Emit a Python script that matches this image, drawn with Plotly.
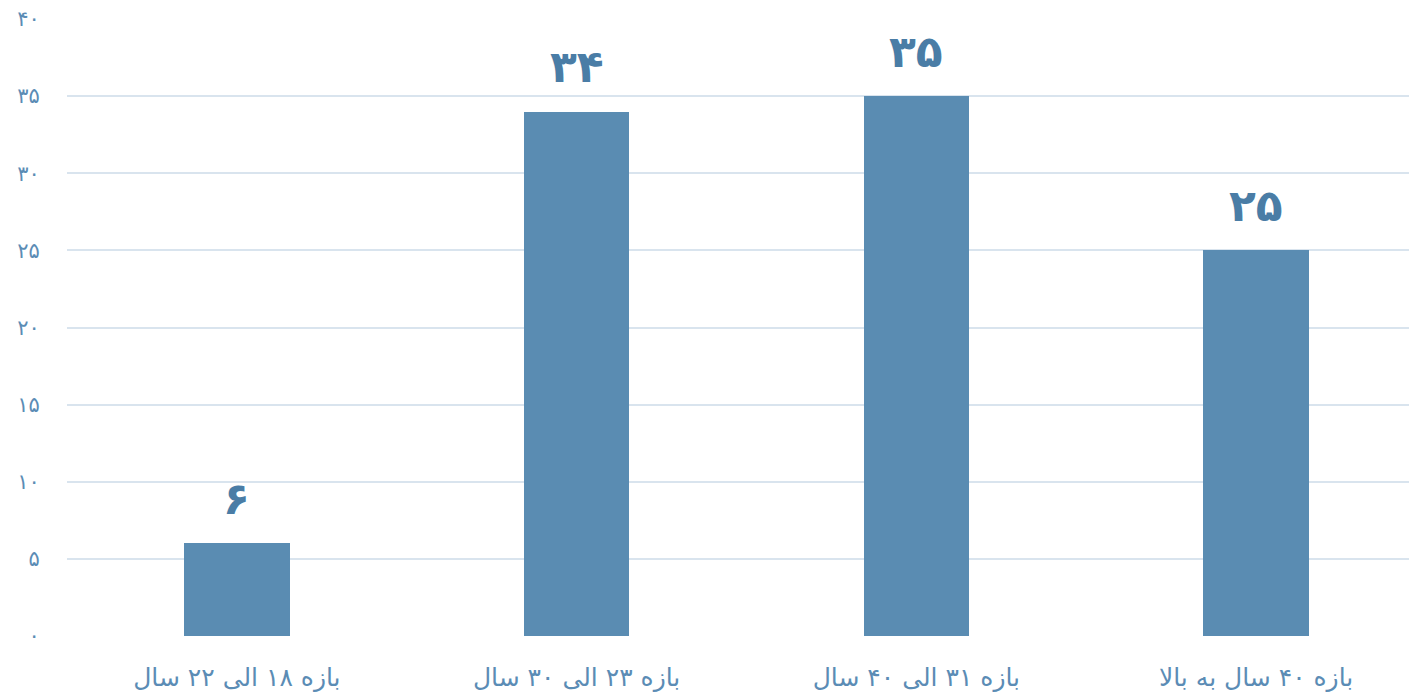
import plotly.graph_objects as go

categories = ["بازه ۱۸ الی ۲۲ سال", "بازه ۲۳ الی ۳۰ سال", "بازه ۳۱ الی ۴۰ سال", "بازه ۴۰ سال به بالا"]
values = [6, 34, 35, 25]
tick_vals = [0, 5, 10, 15, 20, 25, 30, 35, 40]

def fa(n):
    return str(n).translate(str.maketrans("0123456789", "۰۱۲۳۴۵۶۷۸۹"))

tick_text = [fa(v) for v in tick_vals]
value_text = [fa(v) for v in values]

FONT = "DejaVu Sans"
xs = list(range(len(categories)))
fig = go.Figure(go.Bar(
    x=xs, y=values,
    marker=dict(color="#5a8cb2", line=dict(width=0)),
    width=0.31,
))
for x, v, t in zip(xs, values, value_text):
    fig.add_annotation(x=x, y=v, text=t, showarrow=False, yanchor="middle", yshift=45,
                       font=dict(family=FONT, size=44, color="#4a7da6", weight="bold"))
fig.update_layout(
    width=1409, height=694,
    margin=dict(l=67, r=0, t=19, b=58),
    plot_bgcolor="white", paper_bgcolor="white",
    showlegend=False, bargap=0,
    font=dict(family=FONT, color="#5b8cb5"),
)
fig.update_xaxes(
    tickvals=xs, ticktext=categories,
    range=[-0.5, 3.45], showgrid=False, zeroline=False, showline=False,
    tickfont=dict(size=25, color="#5b8cb5"), ticks="outside", ticklen=19, tickcolor="rgba(0,0,0,0)",
)
fig.update_yaxes(
    range=[0, 40], tickvals=tick_vals, ticktext=tick_text,
    showgrid=True, gridcolor="#d9e4ee", gridwidth=1.5, zeroline=False, showline=False,
    tickfont=dict(size=21, color="#5b8cb5"), ticks="outside", ticklen=22, tickcolor="rgba(0,0,0,0)",
)
fig.write_html("out.html")
